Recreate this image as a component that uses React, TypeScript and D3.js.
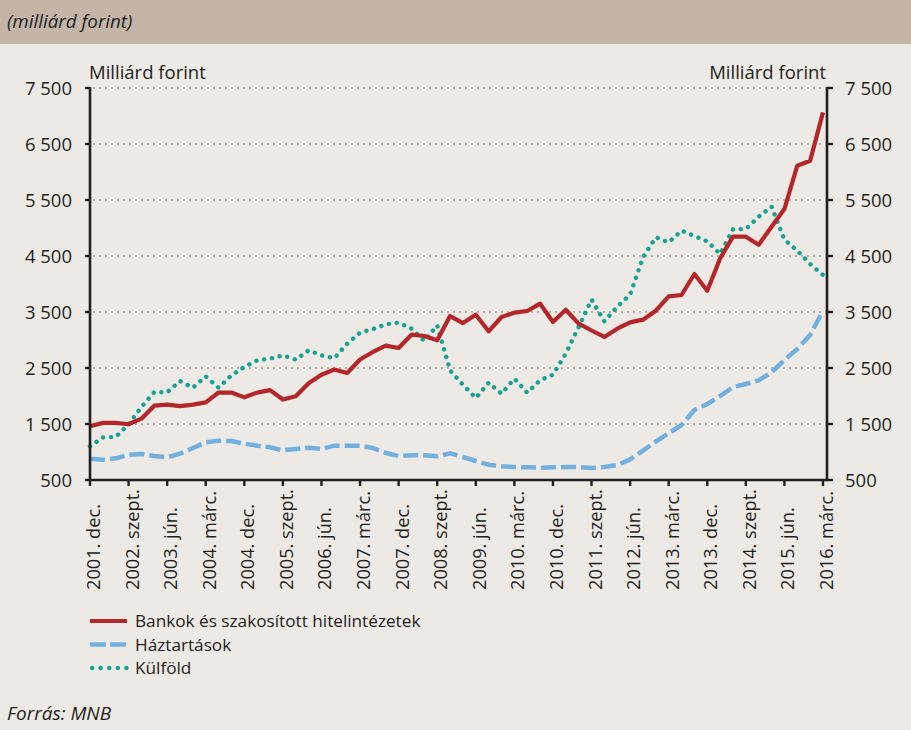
import React from "react";
import * as d3 from "d3";

const tickLabels = [
  "2001. dec.", "2002. szept.", "2003. jún.", "2004. márc.", "2004. dec.",
  "2005. szept.", "2006. jún.", "2007. márc.", "2007. dec.", "2008. szept.",
  "2009. jún.", "2010. márc.", "2010. dec.", "2011. szept.", "2012. jún.",
  "2013. márc.", "2013. dec.", "2014. szept.", "2015. jún.", "2016. márc.",
];

// quarterly values, 2001 Q4 .. 2016 Q1
const banks = [
  1460, 1520, 1520, 1495, 1595, 1827, 1845, 1820, 1845, 1885,
  2062, 2062, 1976, 2060, 2104, 1937, 1997, 2229, 2380, 2473,
  2411, 2652, 2786, 2899, 2857, 3095, 3071, 2994, 3428, 3303,
  3452, 3155, 3411, 3488, 3518, 3649, 3321, 3541, 3292, 3170,
  3054, 3202, 3315, 3363, 3524, 3780, 3804, 4179, 3881, 4458,
  4845, 4845, 4702, 5024, 5339, 6113, 6202, 7065,
];
const households = [
  881, 863, 887, 952, 964, 929, 905, 970, 1071, 1173,
  1202, 1196, 1149, 1113, 1083, 1030, 1054, 1077, 1054, 1113,
  1113, 1113, 1071, 982, 929, 940, 940, 923, 976, 911,
  839, 774, 744, 732, 726, 720, 726, 732, 732, 715,
  732, 768, 869, 1024, 1185, 1333, 1482, 1750, 1857, 2000,
  2161, 2214, 2280, 2423, 2643, 2839, 3089, 3524,
];
const foreign = [
  1101, 1260, 1270, 1494, 1804, 2071, 2065, 2268, 2149, 2351,
  2149, 2369, 2518, 2637, 2667, 2726, 2649, 2815, 2726, 2675,
  2934, 3131, 3196, 3280, 3310, 3202, 2982, 3262, 2458, 2202,
  1964, 2238, 2042, 2309, 2060, 2280, 2381, 2756, 3232, 3720,
  3333, 3595, 3810, 4476, 4833, 4744, 4952, 4857, 4762, 4536,
  4976, 4982, 5202, 5381, 4792, 4595, 4357, 4161,
];
const yTicks = [500, 1500, 2500, 3500, 4500, 5500, 6500, 7500];
const legendLabels = ["Bankok és szakosított hitelintézetek", "Háztartások", "Külföld"];

const W = 911;
const H = 730;
const FONT = "'Open Sans', sans-serif";
const AXIS = "#231f20";
const RED = "#b3262a";
const BLUE = "#72b0e0";
const TEAL = "#16a393";

const fmt = (v: number) => {
  const s = String(v);
  return s.length > 3 ? s.slice(0, s.length - 3) + " " + s.slice(-3) : s;
};

export default function App() {
  const x = d3.scaleLinear().domain([0, banks.length - 1]).range([90, 823]);
  const y = d3.scaleLinear().domain([500, 7500]).range([480, 88]);
  const line = d3
    .line<number>()
    .x((_, i) => x(i))
    .y((d) => y(d));
  const leftX = 90;
  const rightX = 827;
  const tickIdx = tickLabels.map((_, k) => k * 3);

  const series = [
    { data: foreign, color: TEAL, dash: "0.1 7.8", width: 4.4, cap: "round" },
    { data: households, color: BLUE, dash: "15 5", width: 4.5, cap: "butt" },
    { data: banks, color: RED, dash: "", width: 4.2, cap: "butt" },
  ];
  const legendStyle = [
    { color: RED, dash: "", width: 4.2, cap: "butt" },
    { color: BLUE, dash: "16 4", width: 4.5, cap: "butt" },
    { color: TEAL, dash: "0.1 8.5", width: 4.4, cap: "round" },
  ];

  return (
    <div style={{ position: "absolute", left: 0, top: 0 }}>
      <style>{`body{margin:0}`}</style>
      <svg width={W} height={H} style={{ display: "block" }} fontFamily={FONT}>
        <rect x={0} y={0} width={W} height={H} fill="#ede9e5" />
        <rect x={0} y={0} width={W} height={44} fill="#c4b5a9" />
        <text x={7} y={28} fontSize={18.8} fontStyle="italic" fill="#231f20">
          (milliárd forint)
        </text>

        {/* gridlines */}
        {yTicks
          .filter((t) => t > 500)
          .map((t) => (
            <line
              key={"g" + t}
              x1={leftX + 3}
              x2={rightX - 2}
              y1={y(t)}
              y2={y(t)}
              stroke="#a09c99"
              strokeWidth={1.5}
              strokeDasharray="2 4"
            />
          ))}

        {/* series */}
        {series.map((s, k) => (
          <path
            key={"s" + k}
            d={line(s.data) || ""}
            fill="none"
            stroke={s.color}
            strokeWidth={s.width}
            strokeDasharray={s.dash || undefined}
            strokeLinecap={s.cap as any}
            strokeLinejoin="round"
          />
        ))}

        {/* axes */}
        <line x1={leftX} x2={leftX} y1={y(7500) - 1} y2={481} stroke={AXIS} strokeWidth={2.6} />
        <line x1={rightX} x2={rightX} y1={y(7500) - 1} y2={481} stroke={AXIS} strokeWidth={2.6} />
        <line x1={leftX - 1} x2={rightX + 1} y1={480} y2={480} stroke={AXIS} strokeWidth={2.6} />

        {yTicks.map((t) => (
          <g key={"yt" + t}>
            <line x1={leftX - 5} x2={leftX} y1={y(t)} y2={y(t)} stroke={AXIS} strokeWidth={2.4} />
            <line x1={rightX} x2={rightX + 6} y1={y(t)} y2={y(t)} stroke={AXIS} strokeWidth={2.4} />
            <text x={72} y={y(t)} dy="0.36em" textAnchor="end" fontSize={18.5} fill="#231f20">
              {fmt(t)}
            </text>
            <text x={845} y={y(t)} dy="0.36em" textAnchor="start" fontSize={18.5} fill="#231f20">
              {fmt(t)}
            </text>
          </g>
        ))}

        <text x={89} y={79} fontSize={18.5} fill="#231f20">
          Milliárd forint
        </text>
        <text x={826} y={79} fontSize={18.5} textAnchor="end" fill="#231f20">
          Milliárd forint
        </text>

        {tickIdx.map((idx, k) => (
          <g key={"xt" + k}>
            <line x1={x(idx)} x2={x(idx)} y1={480} y2={486} stroke={AXIS} strokeWidth={2.4} />
            <text
              transform={`translate(${x(idx) + 10},590) rotate(-90)`}
              fontSize={18.2}
              textAnchor="start"
              fill="#231f20"
            >
              {tickLabels[k]}
            </text>
          </g>
        ))}

        {/* legend */}
        {legendLabels.map((lab, k) => {
          const ly = 621 + k * 23.5;
          const st = legendStyle[k];
          return (
            <g key={"lg" + k}>
              <line
                x1={st.cap === "round" ? 92 : 90}
                x2={127}
                y1={ly}
                y2={ly}
                stroke={st.color}
                strokeWidth={st.width}
                strokeDasharray={st.dash || undefined}
                strokeLinecap={st.cap as any}
              />
              <text x={135} y={ly} dy="0.36em" fontSize={17.2} fill="#231f20">
                {lab}
              </text>
            </g>
          );
        })}

        <text x={7} y={720} fontSize={19} fontStyle="italic" fill="#231f20">
          Forrás: MNB
        </text>
      </svg>
    </div>
  );
}
